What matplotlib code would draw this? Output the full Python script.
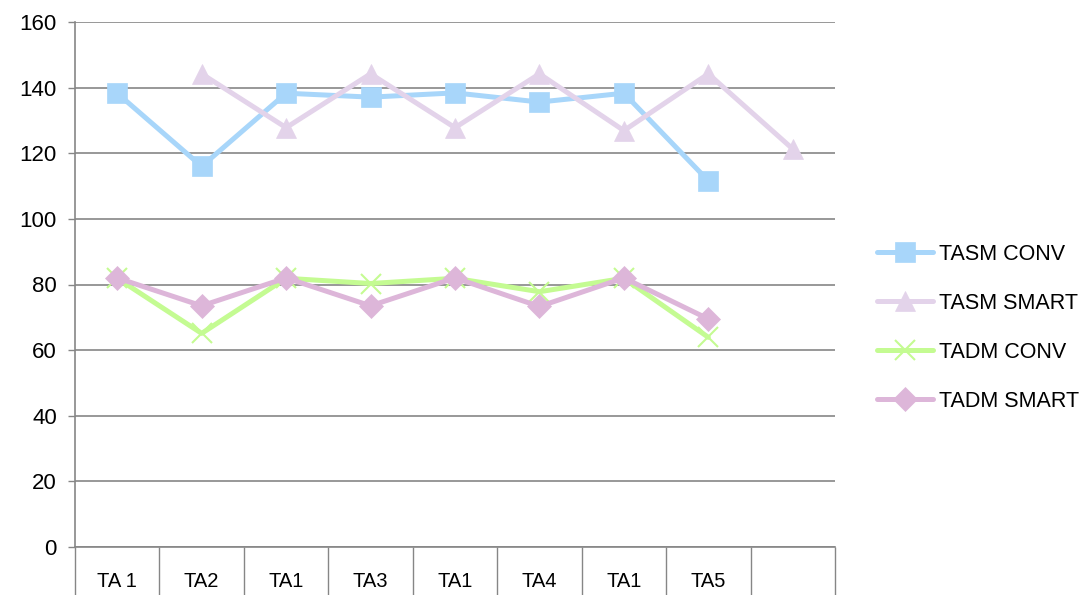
import matplotlib.pyplot as plt
import numpy as np

# category labels along the x axis (last slot left empty)
categories = ['TA 1', 'TA2', 'TA1', 'TA3', 'TA1', 'TA4', 'TA1', 'TA5', '']

tasm_conv = [138.3, 116.0, 138.3, 137.1, 138.4, 135.6, 138.3, 111.6, None]
tasm_smart = [None, 144.2, 127.8, 144.2, 127.8, 144.2, 126.9, 144.2, 121.3]
tadm_conv = [81.9, 65.1, 81.9, 80.3, 81.9, 77.8, 81.9, 63.9, None]
tadm_smart = [82.0, 73.5, 82.0, 73.5, 82.0, 73.3, 82.0, 69.5, None]

series = [
    ('TASM CONV', tasm_conv, '#a8d6fa', 's', 14),
    ('TASM SMART', tasm_smart, '#e3d3ea', '^', 15),
    ('TADM CONV', tadm_conv, '#c4fb92', 'x', 14),
    ('TADM SMART', tadm_smart, '#ddb6d9', 'D', 12),
]

plt.rcParams['font.family'] = ['Liberation Sans', 'DejaVu Sans']

fig = plt.figure(figsize=(10.89, 5.95), dpi=100)
ax = fig.add_axes([75 / 1089, 1 - 547 / 595, 760 / 1089, 525 / 595])

x = np.arange(len(categories)) + 0.5
for name, vals, color, marker, ms in series:
    y = np.array([np.nan if v is None else v for v in vals], dtype=float)
    ax.plot(x, y, color=color, lw=3.6, marker=marker, markersize=ms,
            markeredgewidth=1.5 if marker == 'x' else 0.5,
            markeredgecolor=color, label=name, solid_capstyle='round')

ax.set_xlim(0, len(categories))
ax.set_ylim(0, 160)
ax.set_yticks(np.arange(0, 161, 20))
ax.yaxis.grid(True, color='#868686', lw=1.2)
ax.set_axisbelow(True)

# category boundaries as long ticks, labels centred between them
ax.set_xticks(np.arange(len(categories) + 1))
ax.set_xticklabels([])
ax.tick_params(axis='x', which='major', length=35, width=1, color='#868686')
ax.set_xticks(x, minor=True)
ax.set_xticklabels(categories, minor=True)
ax.tick_params(axis='x', which='minor', length=0, pad=18, labelsize=14.5)
ax.tick_params(axis='y', length=5, width=1, color='#868686', labelsize=16, pad=8)

for side in ('top', 'right'):
    ax.spines[side].set_visible(False)
for side in ('left', 'bottom'):
    ax.spines[side].set_color('#868686')
    ax.spines[side].set_linewidth(1.2)

ax.legend(loc='center left', bbox_to_anchor=(1.03, 0.418), frameon=False,
          fontsize=15.5, handlelength=2.6, labelspacing=1.3, handletextpad=0.25)

fig.savefig('out.png', dpi=100)
